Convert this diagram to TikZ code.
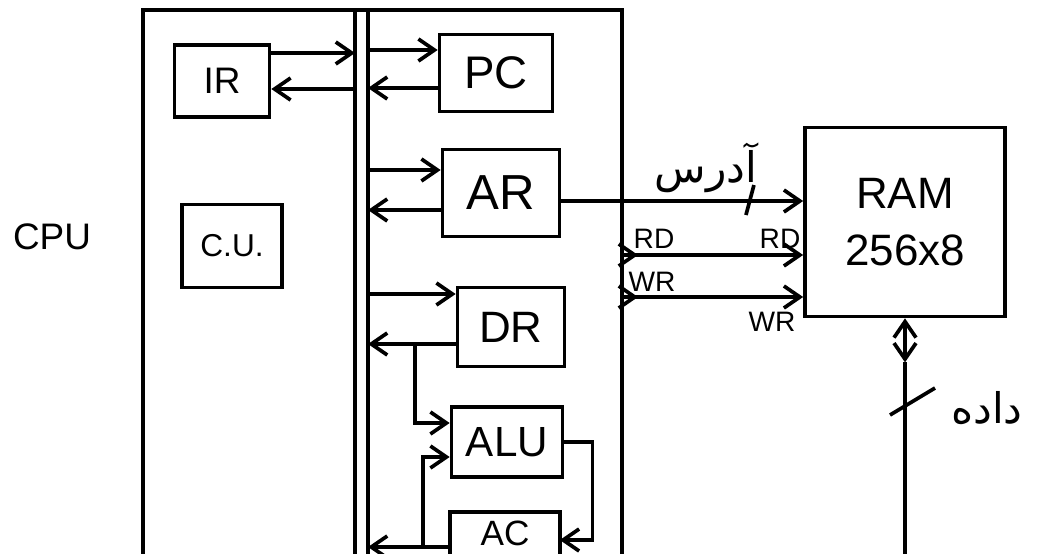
\documentclass[tikz,border=0pt]{standalone}
\usepackage{fontspec}
\setmainfont{Liberation Sans}
\newfontfamily\arabicfont[Script=Arabic]{DejaVu Sans}
\TeXXeTstate=1
\usetikzlibrary{arrows.meta, calc}

\begin{document}
\begin{tikzpicture}[
    x=0.2mm, y=-0.2mm,
    >={Straight Barb[length=3.2mm, width=4.4mm]},
    line width=2.1pt,
    unit/.style={
        draw,
        rectangle,
        inner sep=0pt,
        font=\fontsize{26}{28}\selectfont
    },
    tag/.style={font=\fontsize{16}{16}\selectfont, inner sep=0pt},
    fa/.style={font=\fontsize{24}{24}\selectfont\arabicfont, inner sep=0pt}
]
\useasboundingbox (0,0) rectangle (1042,553);
\clip (0,0) rectangle (1042,553);

% CPU frame and internal bus
\draw (143,570) |- (622,10) -- (622,570);
\coordinate (busL) at (355,10);
\coordinate (busR) at (368,10);
\draw (busL) -- (355,570);
\draw (busR) -- (368,570);
\node[font=\fontsize{21}{21}\selectfont] (cpu) at (52,237) {CPU};

% units
\node[unit, minimum width=19mm, minimum height=14.4mm, font=\fontsize{21}{21}\selectfont] (IR) at (222,81) {IR};
\node[unit, minimum width=20mm, minimum height=16.6mm, font=\fontsize{18}{18}\selectfont] (CU) at (232,246) {C.U.};
\node[unit, minimum width=22.6mm, minimum height=15.4mm] (PC) at (496,73) {PC};
\node[unit, minimum width=23.4mm, minimum height=17.4mm, font=\fontsize{28}{28}\selectfont] (AR) at (501,193) {AR};
\node[unit, minimum width=21.4mm, minimum height=15.8mm, font=\fontsize{25}{25}\selectfont] (DR) at (511,327) {DR};
\node[unit, minimum width=22.2mm, minimum height=14mm, font=\fontsize{24}{24}\selectfont] (ALU) at (507,442) {ALU};
\node[unit, draw=none, minimum width=21.2mm, minimum height=7.6mm, font=\fontsize{20}{20}\selectfont] (AC) at (505,533) {AC};
\draw ($(AC.south west)+(0,30)$) |- (AC.north east) -- ++(0,70);
\node[unit, minimum width=40mm, minimum height=37.8mm, align=center, font=\fontsize{25}{32}\selectfont] (RAM) at (905,222) {RAM\\256x8};

% unit <-> bus
\draw[->] ($(IR.east)+(0,-28)$) coordinate (a) -- (a -| busL);
\draw[<-] ($(IR.east)+(0,8)$) coordinate (a) -- (a -| busL);
\draw[<-] ($(PC.west)+(0,-23)$) coordinate (a) -- (a -| busR);
\draw[->] ($(PC.west)+(0,15)$) coordinate (a) -- (a -| busR);
\draw[<-] ($(AR.west)+(0,-23)$) coordinate (a) -- (a -| busR);
\draw[->] ($(AR.west)+(0,17)$) coordinate (a) -- (a -| busR);
\draw[<-] ($(DR.west)+(0,-33)$) coordinate (a) -- (a -| busR);
\draw[->] ($(DR.west)+(0,17)$) coordinate (a) -- (a -| busR);
\draw[->] ($(AC.west)+(0,14)$) coordinate (a) -- (a -| busR);

% ALU and AC
\coordinate (drTap) at (415,344);
\coordinate (acTap) at (423,547);
\draw[->] (drTap) |- ($(ALU.west)+(0,-19)$);
\draw[->] (acTap) |- ($(ALU.west)+(0,15)$);
\draw[->] (ALU.east) -- ++(28,0) |- ($(AC.east)+(0,7)$);

% CPU <-> RAM
\draw[->] ($(AR.east)+(0,8)$) coordinate (addr) -- node[pos=0.78] (addrCut) {} (addr -| RAM.west);
\draw ($(addrCut)+(-4,14)$) -- ($(addrCut)+(4,-16)$);
\node[fa] (addrLbl) at (706,168) {\beginR آدرس\endR};

\coordinate (rd) at (622,255);
\coordinate (wr) at (622,297);
\draw[->] (rd) -- (rd -| RAM.west);
\draw[->] (rd) -- ++(16,0);
\draw[->] (wr) -- (wr -| RAM.west);
\draw[->] (wr) -- ++(16,0);
\node[tag] (rdA) at (654,239) {RD};
\node[tag] (rdB) at (780,239) {RD};
\node[tag] (wrA) at (652,282) {WR};
\node[tag] (wrB) at (772,322) {WR};

% data lines
\coordinate (dataEnd) at (905,570);
\draw[<->] (RAM.south) -- ++(0,44) coordinate (dataMid);
\draw (dataMid) -- (dataEnd);
\draw (890,415) -- (935,388);
\node[fa] (dataLbl) at (987,408) {\beginR داده\endR};

\end{tikzpicture}
\end{document}
